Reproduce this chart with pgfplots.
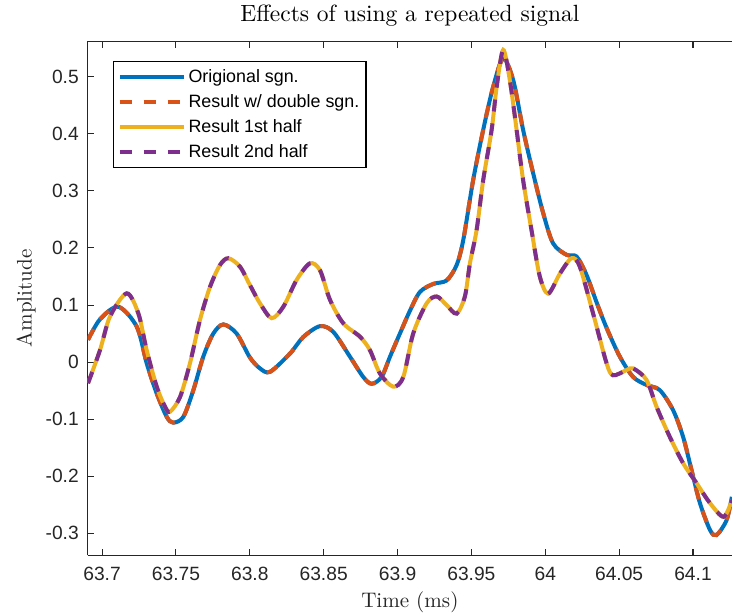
\documentclass[border=0pt]{standalone}
\usepackage{fontspec}
\usepackage{pgfplots}
\pgfplotsset{compat=1.18}
\newfontfamily\arial{Liberation Sans}
\newfontfamily\lmten{lmroman10-regular.otf}
\definecolor{mblue}{rgb}{0,0.447,0.741}
\definecolor{morange}{rgb}{0.85,0.325,0.098}
\definecolor{myellow}{rgb}{0.929,0.694,0.125}
\definecolor{mpurple}{rgb}{0.494,0.184,0.556}
\definecolor{axgray}{rgb}{0.15,0.15,0.15}

\pgfplotstableread{
x y
63.6905 0.039
63.6986 0.075
63.7110 0.097
63.7235 0.062
63.7302 -0.002
63.7370 -0.055
63.7438 -0.096
63.7482 -0.106
63.7550 -0.096
63.7618 -0.049
63.7685 0.0095
63.7753 0.050
63.7821 0.066
63.7911 0.050
63.8001 0.008
63.8069 -0.011
63.8137 -0.017
63.8272 0.015
63.8362 0.044
63.8475 0.063
63.8565 0.053
63.8678 0.0095
63.8768 -0.026
63.8825 -0.038
63.8892 -0.026
63.8949 0.0095
63.9016 0.050
63.9084 0.090
63.9152 0.123
63.9242 0.137
63.9332 0.143
63.9400 0.170
63.9445 0.214
63.9512 0.319
63.9580 0.407
63.9647 0.482
63.9715 0.532
63.9783 0.494
63.9850 0.407
63.9918 0.331
63.9986 0.261
64.0053 0.208
64.0144 0.188
64.0212 0.185
64.0279 0.153
64.0347 0.105
64.0415 0.060
64.0505 0.0095
64.0595 -0.026
64.0685 -0.040
64.0775 -0.049
64.0865 -0.084
64.0933 -0.131
64.0990 -0.189
64.1047 -0.247
64.1115 -0.294
64.1159 -0.303
64.1227 -0.277
64.1263 -0.236
}\orig

\pgfplotstableread{
x y
63.6905 0.039
63.6986 0.075
63.7110 0.097
63.7235 0.062
63.7302 -0.002
63.7370 -0.055
63.7438 -0.096
63.7482 -0.106
63.7550 -0.096
63.7618 -0.049
63.7685 0.0095
63.7753 0.050
63.7821 0.066
63.7911 0.050
63.8001 0.008
63.8069 -0.011
63.8137 -0.017
63.8272 0.015
63.8362 0.044
63.8475 0.063
63.8565 0.053
63.8678 0.0095
63.8768 -0.026
63.8825 -0.038
63.8892 -0.026
63.8949 0.0095
63.9016 0.050
63.9084 0.090
63.9152 0.123
63.9242 0.137
63.9332 0.143
63.9400 0.170
63.9445 0.214
63.9512 0.319
63.9580 0.407
63.9647 0.482
63.9715 0.532
63.9783 0.494
63.9850 0.407
63.9918 0.331
63.9986 0.261
64.0053 0.208
64.0144 0.188
64.0212 0.185
64.0279 0.153
64.0347 0.105
64.0415 0.060
64.0505 0.0095
64.0595 -0.026
64.0685 -0.040
64.0775 -0.049
64.0865 -0.084
64.0933 -0.131
64.0990 -0.189
64.1047 -0.247
64.1115 -0.294
64.1159 -0.303
64.1227 -0.277
64.1263 -0.236
}\double

\pgfplotstableread{
x y
63.6905 -0.037
63.6986 0.021
63.7054 0.080
63.7167 0.1205
63.7246 0.085
63.7302 0.021
63.7370 -0.043
63.7426 -0.078
63.7460 -0.087
63.7528 -0.061
63.7595 -0.002
63.7663 0.074
63.7731 0.132
63.7798 0.170
63.7855 0.182
63.7934 0.167
63.8001 0.135
63.8069 0.103
63.8148 0.077
63.8227 0.097
63.8317 0.144
63.8407 0.173
63.8475 0.161
63.8543 0.109
63.8633 0.068
63.8746 0.0445
63.8813 0.021
63.8881 -0.020
63.8971 -0.043
63.9039 -0.026
63.9106 0.050
63.9197 0.103
63.9265 0.115
63.9332 0.100
63.9400 0.085
63.9456 0.115
63.9490 0.173
63.9535 0.231
63.9580 0.319
63.9637 0.407
63.9671 0.482
63.9715 0.547
63.9760 0.494
63.9806 0.407
63.9850 0.319
63.9907 0.231
63.9963 0.150
64.0020 0.120
64.0099 0.155
64.0178 0.182
64.0234 0.167
64.0324 0.085
64.0415 -0.002
64.0459 -0.023
64.0550 -0.014
64.0595 -0.011
64.0685 -0.031
64.0753 -0.078
64.0843 -0.131
64.0933 -0.177
64.1024 -0.212
64.1115 -0.247
64.1207 -0.271
64.1263 -0.242
}\first

\pgfplotstableread{
x y
63.6905 -0.037
63.6986 0.021
63.7054 0.080
63.7167 0.1205
63.7246 0.085
63.7302 0.021
63.7370 -0.043
63.7426 -0.078
63.7460 -0.087
63.7528 -0.061
63.7595 -0.002
63.7663 0.074
63.7731 0.132
63.7798 0.170
63.7855 0.182
63.7934 0.167
63.8001 0.135
63.8069 0.103
63.8148 0.077
63.8227 0.097
63.8317 0.144
63.8407 0.173
63.8475 0.161
63.8543 0.109
63.8633 0.068
63.8746 0.0445
63.8813 0.021
63.8881 -0.020
63.8971 -0.043
63.9039 -0.026
63.9106 0.050
63.9197 0.103
63.9265 0.115
63.9332 0.100
63.9400 0.085
63.9456 0.115
63.9490 0.173
63.9535 0.231
63.9580 0.319
63.9637 0.407
63.9671 0.482
63.9715 0.547
63.9760 0.494
63.9806 0.407
63.9850 0.319
63.9907 0.231
63.9963 0.150
64.0020 0.120
64.0099 0.155
64.0178 0.182
64.0234 0.167
64.0324 0.085
64.0415 -0.002
64.0459 -0.023
64.0550 -0.014
64.0595 -0.011
64.0685 -0.031
64.0753 -0.078
64.0843 -0.131
64.0933 -0.177
64.1024 -0.212
64.1115 -0.247
64.1207 -0.271
64.1263 -0.242
}\second

\begin{document}
\begin{tikzpicture}
\begin{axis}[
  at={(0,0)}, anchor=south west,
  scale only axis,
  width=483.2pt, height=385.5pt,
  xmin=63.6903, xmax=64.1264,
  ymin=-0.3385, ymax=0.562,
  xtick={63.7,63.75,...,64.1},
  ytick={-0.3,-0.2,...,0.5},
  xticklabels={63.7,63.75,63.8,63.85,63.9,63.95,64,64.05,64.1},
  yticklabels={-0.3,-0.2,-0.1,0,0.1,0.2,0.3,0.4,0.5},
  axis x line=box,
  axis y line*=left,
  axis line style={draw=axgray, line width=0.8pt},
  tick style={draw=axgray, line width=0.8pt},
  major tick length=5pt,
  tick align=inside,
  /pgf/number format/assume math mode=true,
  ticklabel style={font=\arial\fontsize{14.4}{17}\selectfont, text=axgray},
  xticklabel style={yshift=-5.5pt},
  yticklabel style={xshift=-3.2pt},
  title={Effects of using a repeated signal},
  title style={font=\lmten\fontsize{17.6}{20}\selectfont, at={(axis description cs:0.5,1.0395)}, anchor=base, yshift=-6pt},
  xlabel={Time (ms)},
  xlabel style={font=\lmten\fontsize{15.8}{19}\selectfont, text=axgray, at={(axis description cs:0.5,-0.0909)}, anchor=center},
  ylabel={Amplitude},
  ylabel style={font=\lmten\fontsize{15.8}{19}\selectfont, text=axgray, at={(axis description cs:-0.0958,0.5)}, anchor=center},
  legend style={at={(0.0397,0.962)}, anchor=north west, draw=black, line width=0.8pt,
    font=\arial\fontsize{13.4}{15}\selectfont, inner xsep=3pt, inner ysep=3pt,
    row sep=1.75pt, nodes={inner sep=2pt, text height=11pt, text depth=2pt}},
  legend cell align=left,
  legend image code/.code={\draw[#1] (0pt,0pt) -- (48pt,0pt);},
  every axis plot/.append style={line width=3pt},
  clip=true,
]
\addplot[mblue, smooth, tension=0.5] table {\orig};
\addlegendentry{Origional sgn.}
\addplot[morange, smooth, tension=0.5, dash pattern=on 9pt off 9pt] table {\double};
\addlegendentry{Result w/ double sgn.}
\addplot[myellow, smooth, tension=0.5] table {\first};
\addlegendentry{Result 1st half}
\addplot[mpurple, smooth, tension=0.5, dash pattern=on 9pt off 9pt] table {\second};
\addlegendentry{Result 2nd half}
\end{axis}
\pgfresetboundingbox
\path[use as bounding box] (-65.8pt,-44.8pt) rectangle (483.2pt,416.5pt);
\end{tikzpicture}
\end{document}
